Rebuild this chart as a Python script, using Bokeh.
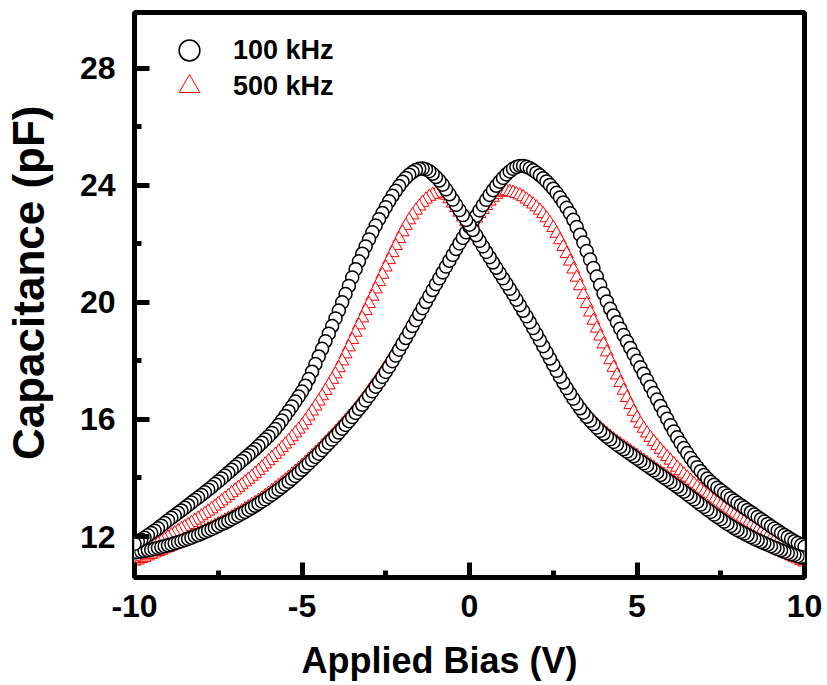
import numpy as np
from bokeh.plotting import figure
from bokeh.models import Range1d, FixedTicker, Legend, LegendItem, ColumnDataSource
from bokeh.embed import file_html
from bokeh.resources import INLINE

# Bias sweep grid (V), 0.1 V steps from -10 V to +10 V
bias = np.round(np.linspace(-10, 10, 201), 2)

# 100 kHz, forward sweep (-10 -> +10 V), capacitance in pF, listed by ascending bias
c100_fwd = [
    11.45, 11.47, 11.49, 11.51, 11.53, 11.55, 11.58, 11.61, 11.64, 11.67,
    11.70, 11.73, 11.77, 11.80, 11.84, 11.88, 11.92, 11.96, 12.01, 12.05,
    12.10, 12.15, 12.20, 12.25, 12.30, 12.36, 12.42, 12.47, 12.53, 12.59,
    12.65, 12.71, 12.78, 12.84, 12.91, 12.98, 13.05, 13.12, 13.20, 13.27,
    13.35, 13.43, 13.52, 13.60, 13.69, 13.78, 13.87, 13.97, 14.07, 14.17,
    14.28, 14.39, 14.50, 14.61, 14.72, 14.83, 14.95, 15.07, 15.19, 15.31,
    15.43, 15.55, 15.68, 15.81, 15.94, 16.08, 16.22, 16.36, 16.50, 16.65,
    16.80, 16.96, 17.12, 17.28, 17.45, 17.62, 17.80, 17.99, 18.18, 18.38,
    18.58, 18.78, 18.98, 19.19, 19.39, 19.60, 19.80, 20.01, 20.21, 20.42,
    20.62, 20.82, 21.02, 21.22, 21.42, 21.62, 21.82, 22.01, 22.20, 22.39,
    22.58,
    22.77, 22.95, 23.14, 23.32, 23.50, 23.67, 23.83, 23.98, 24.12, 24.25,
    24.37, 24.47, 24.56, 24.62, 24.66, 24.66, 24.63, 24.58, 24.51, 24.43,
    24.34, 24.24, 24.13, 24.01, 23.88, 23.74, 23.58, 23.41, 23.23, 23.04,
    22.82, 22.57, 22.31, 22.04, 21.75, 21.46, 21.17, 20.88, 20.59, 20.30,
    20.03, 19.78, 19.55, 19.32, 19.10, 18.88, 18.66, 18.44, 18.22, 18.00,
    17.78, 17.56, 17.34, 17.12, 16.90, 16.68, 16.46, 16.24, 16.02, 15.80,
    15.59, 15.39, 15.20, 15.02, 14.85, 14.68, 14.52, 14.37, 14.23, 14.10,
    13.98, 13.87, 13.77, 13.67, 13.58, 13.49, 13.40, 13.31, 13.23, 13.15,
    13.07, 12.99, 12.91, 12.83, 12.75, 12.67, 12.59, 12.51, 12.43, 12.35,
    12.27, 12.20, 12.12, 12.05, 11.98, 11.91, 11.84, 11.78, 11.71, 11.65,
]

# 100 kHz, reverse sweep (+10 -> -10 V), listed by ascending bias
c100_rev = [
    11.75, 11.82, 11.89, 11.96, 12.04, 12.12, 12.20, 12.28, 12.37, 12.46,
    12.55, 12.64, 12.72, 12.81, 12.89, 12.98, 13.07, 13.16, 13.25, 13.33,
    13.42, 13.51, 13.60, 13.69, 13.79, 13.88, 13.98, 14.08, 14.18, 14.28,
    14.38, 14.48, 14.58, 14.68, 14.78, 14.88, 14.98, 15.09, 15.20, 15.31,
    15.42, 15.54, 15.67, 15.81, 15.96, 16.12, 16.28, 16.44, 16.61, 16.78,
    16.95, 17.15, 17.38, 17.63, 17.89, 18.15, 18.41, 18.67, 18.93, 19.19,
    19.45, 19.72, 20.00, 20.28, 20.56, 20.85, 21.13, 21.40, 21.66, 21.91,
    22.15, 22.39, 22.62, 22.84, 23.05, 23.25, 23.45, 23.64, 23.81, 23.97,
    24.12, 24.25, 24.36, 24.45, 24.52, 24.56, 24.57, 24.54, 24.48, 24.39,
    24.28, 24.16, 24.02, 23.86, 23.69, 23.51, 23.33, 23.15, 22.98, 22.81,
    22.65,
    22.47, 22.29, 22.10, 21.91, 21.72, 21.54, 21.36, 21.18, 21.00, 20.82,
    20.64, 20.46, 20.28, 20.09, 19.90, 19.71, 19.52, 19.32, 19.12, 18.92,
    18.71, 18.50, 18.29, 18.08, 17.87, 17.66, 17.46, 17.26, 17.07, 16.89,
    16.71, 16.54, 16.38, 16.23, 16.09, 15.96, 15.84, 15.72, 15.61, 15.51,
    15.41, 15.32, 15.23, 15.14, 15.06, 14.98, 14.90, 14.82, 14.74, 14.66,
    14.58, 14.50, 14.42, 14.34, 14.26, 14.18, 14.10, 14.02, 13.94, 13.86,
    13.78, 13.70, 13.61, 13.53, 13.44, 13.35, 13.27, 13.18, 13.09, 13.01,
    12.92, 12.84, 12.75, 12.67, 12.59, 12.51, 12.43, 12.36, 12.29, 12.22,
    12.16, 12.10, 12.04, 11.98, 11.92, 11.87, 11.82, 11.77, 11.72, 11.67,
    11.62, 11.57, 11.53, 11.48, 11.44, 11.40, 11.37, 11.33, 11.30, 11.27,
]

# 500 kHz, forward sweep (-10 -> +10 V), listed by ascending bias
c500_fwd = [
    11.15, 11.19, 11.24, 11.28, 11.33, 11.38, 11.43, 11.48, 11.52, 11.57,
    11.62, 11.67, 11.72, 11.77, 11.82, 11.88, 11.93, 11.99, 12.04, 12.09,
    12.15, 12.20, 12.26, 12.32, 12.37, 12.43, 12.49, 12.55, 12.61, 12.67,
    12.73, 12.80, 12.87, 12.94, 13.01, 13.08, 13.15, 13.23, 13.31, 13.39,
    13.47, 13.56, 13.65, 13.74, 13.83, 13.92, 14.02, 14.12, 14.22, 14.32,
    14.42, 14.53, 14.64, 14.75, 14.86, 14.97, 15.09, 15.21, 15.33, 15.45,
    15.57, 15.70, 15.83, 15.96, 16.09, 16.22, 16.36, 16.51, 16.66, 16.81,
    16.97, 17.13, 17.29, 17.46, 17.63, 17.80, 17.98, 18.17, 18.36, 18.55,
    18.75, 18.95, 19.15, 19.35, 19.55, 19.75, 19.95, 20.14, 20.34, 20.53,
    20.72, 20.91, 21.10, 21.30, 21.49, 21.68, 21.87, 22.05, 22.22, 22.39,
    22.55,
    22.71, 22.87, 23.02, 23.16, 23.30, 23.45, 23.58, 23.68, 23.75, 23.79,
    23.80, 23.78, 23.75, 23.71, 23.66, 23.60, 23.52, 23.44, 23.35, 23.25,
    23.14, 23.02, 22.88, 22.72, 22.55, 22.35, 22.13, 21.90, 21.66, 21.40,
    21.13, 20.85, 20.56, 20.26, 19.95, 19.66, 19.38, 19.11, 18.84, 18.57,
    18.30, 18.03, 17.77, 17.51, 17.25, 16.99, 16.74, 16.50, 16.27, 16.05,
    15.86, 15.69, 15.53, 15.38, 15.24, 15.10, 14.97, 14.84, 14.72, 14.60,
    14.48, 14.36, 14.24, 14.13, 14.02, 13.91, 13.80, 13.70, 13.60, 13.50,
    13.41, 13.32, 13.23, 13.14, 13.05, 12.97, 12.89, 12.81, 12.73, 12.65,
    12.57, 12.50, 12.42, 12.35, 12.28, 12.21, 12.14, 12.06, 11.99, 11.92,
    11.85, 11.78, 11.71, 11.64, 11.58, 11.51, 11.44, 11.36, 11.28, 11.20,
]

# 500 kHz, reverse sweep (+10 -> -10 V), listed by ascending bias
c500_rev = [
    11.30, 11.36, 11.42, 11.49, 11.55, 11.62, 11.69, 11.76, 11.83, 11.90,
    11.98, 12.05, 12.12, 12.19, 12.26, 12.33, 12.40, 12.47, 12.55, 12.62,
    12.70, 12.78, 12.86, 12.94, 13.03, 13.12, 13.21, 13.30, 13.39, 13.49,
    13.58, 13.67, 13.76, 13.86, 13.95, 14.05, 14.15, 14.25, 14.36, 14.47,
    14.58, 14.69, 14.80, 14.91, 15.03, 15.15, 15.27, 15.40, 15.53, 15.66,
    15.80, 15.95, 16.11, 16.28, 16.45, 16.62, 16.80, 16.98, 17.17, 17.36,
    17.55, 17.76, 17.99, 18.23, 18.47, 18.72, 18.97, 19.22, 19.46, 19.71,
    19.95, 20.20, 20.45, 20.70, 20.95, 21.20, 21.45, 21.69, 21.93, 22.17,
    22.40, 22.62, 22.81, 22.98, 23.14, 23.28, 23.41, 23.52, 23.61, 23.68,
    23.72, 23.74, 23.72, 23.65, 23.53, 23.38, 23.23, 23.07, 22.91, 22.75,
    22.60,
    22.44, 22.28, 22.12, 21.96, 21.80, 21.63, 21.46, 21.28, 21.10, 20.92,
    20.74, 20.56, 20.38, 20.19, 20.00, 19.81, 19.62, 19.42, 19.22, 19.02,
    18.81, 18.60, 18.39, 18.18, 17.97, 17.76, 17.56, 17.36, 17.17, 16.99,
    16.81, 16.64, 16.48, 16.33, 16.19, 16.06, 15.94, 15.82, 15.71, 15.61,
    15.51, 15.42, 15.33, 15.24, 15.16, 15.08, 15.00, 14.92, 14.84, 14.76,
    14.68, 14.60, 14.52, 14.44, 14.36, 14.28, 14.20, 14.12, 14.04, 13.96,
    13.88, 13.80, 13.71, 13.63, 13.54, 13.45, 13.37, 13.28, 13.19, 13.11,
    13.02, 12.94, 12.85, 12.77, 12.69, 12.61, 12.53, 12.45, 12.37, 12.30,
    12.23, 12.16, 12.09, 12.03, 11.97, 11.91, 11.85, 11.79, 11.73, 11.67,
    11.61, 11.55, 11.49, 11.43, 11.38, 11.33, 11.28, 11.23, 11.17, 11.12,
]

x_ticks = [-10, -5, 0, 5, 10]
x_minor = [-7.5, -2.5, 2.5, 7.5]
y_ticks = [12, 16, 20, 24, 28]
y_minor = [14, 18, 22, 26]
labels = ["100 kHz", "500 kHz"]
x_title = "Applied Bias (V)"
y_title = "Capacitance (pF)"

FONT = "Liberation Sans"
NBSP = "\u00a0"

p = figure(width=827, height=685, output_backend="svg", toolbar_location=None,
           x_range=Range1d(-10, 10), y_range=Range1d(10.6, 29.9),
           min_border_left=133, min_border_right=23, min_border_top=12,
           min_border_bottom=108)
p.background_fill_color = "white"
p.border_fill_color = "white"
p.outline_line_color = "black"
p.outline_line_width = 5
p.xgrid.visible = False
p.ygrid.visible = False

# sweep order: forward (-10 -> 10) then reverse (10 -> -10)
xs = list(bias) + list(bias[::-1])
src500 = ColumnDataSource(dict(x=xs, y=c500_fwd + c500_rev[::-1]))
src100 = ColumnDataSource(dict(x=xs, y=c100_fwd + c100_rev[::-1]))

r500 = p.scatter("x", "y", source=src500, marker="triangle", size=13,
                 line_color="red", line_width=1.0, fill_color="white")
r100 = p.scatter("x", "y", source=src100, marker="circle", size=13,
                 line_color="black", line_width=1.5, fill_color="white")

for ax, tk, mn in ((p.xaxis[0], x_ticks, x_minor), (p.yaxis[0], y_ticks, y_minor)):
    ax.ticker = FixedTicker(ticks=tk, minor_ticks=mn)
    ax.axis_line_color = None
    ax.major_tick_in = 15
    ax.major_tick_out = 0
    ax.minor_tick_in = 7
    ax.minor_tick_out = 0
    ax.major_tick_line_width = 5
    ax.minor_tick_line_width = 5
    ax.major_tick_line_color = "black"
    ax.minor_tick_line_color = "black"
    ax.major_label_text_font = FONT
    ax.major_label_text_font_style = "bold"
    ax.major_label_text_font_size = "32px"
    ax.major_label_text_color = "black"
    ax.axis_label_text_font = FONT
    ax.axis_label_text_font_style = "bold"
    ax.axis_label_text_color = "black"

p.xaxis[0].major_label_standoff = 17
p.yaxis[0].major_label_standoff = 19
p.xaxis[0].major_label_overrides = {t: str(t) for t in x_ticks}

# titles: non-breaking spaces nudge the centred text to where the reference has it
p.xaxis[0].axis_label = x_title + NBSP * 6
p.xaxis[0].axis_label_text_font_size = "36px"
p.xaxis[0].axis_label_standoff = 20
p.yaxis[0].axis_label = NBSP * 2 + y_title
p.yaxis[0].axis_label_text_font_size = "44px"
p.yaxis[0].axis_label_standoff = 24

def make_legend(label, rend, loc):
    return Legend(items=[LegendItem(label=label, renderers=[rend])], location=loc,
                  glyph_width=52, glyph_height=52, padding=0, margin=0, spacing=0,
                  label_standoff=18, border_line_color=None,
                  background_fill_alpha=0.0,
                  label_text_font=FONT, label_text_font_style="bold",
                  label_text_font_size="27px", label_text_color="black")

p.add_layout(make_legend(labels[0], r100, (29, 501)))
p.add_layout(make_legend(labels[1], r500, (29, 465)))

open("out.html", "w").write(file_html(p, INLINE))
